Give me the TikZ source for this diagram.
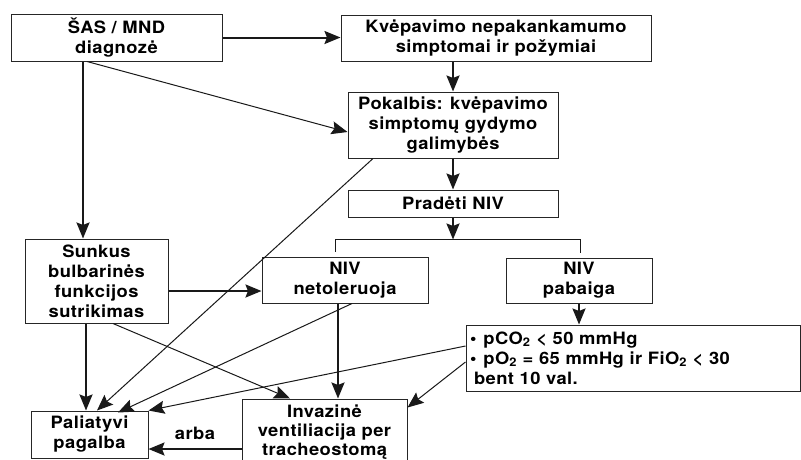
\documentclass[tikz,border=0pt]{standalone}
\usepackage{fontspec}
\setmainfont{TeX Gyre Heros}[FakeStretch=1.08, LetterSpace=2.5]
\usetikzlibrary{arrows.meta,calc}
\begin{document}
\begin{tikzpicture}[x=1pt,y=-1pt,
  font=\fontsize{17}{20}\selectfont\bfseries,
  box/.style={draw=black!85, line width=1pt, align=center, inner sep=0pt, text=black},
  tip/.style={-{Stealth[length=16pt,width=13pt,inset=2.5pt]}},
  thickarr/.style={line width=2pt, draw=black!90, tip},
  thinarr/.style={line width=1pt, draw=black!90, tip},
  thinline/.style={line width=1pt, draw=black!90}]
\useasboundingbox (0,0) rectangle (801,459);
\clip (0,0) rectangle (801,459);
\fill[white] (0,0) rectangle (801,459);

\node[box, minimum width=211pt, minimum height=47pt] (sas) at (116.5,37.5) {ŠAS / MND\\diagnozė};
\node[box, minimum width=310pt, minimum height=46pt] (kve) at (496,38) {Kvėpavimo nepakankamumo\\simptomai ir požymiai};
\node[box, minimum width=210pt, minimum height=66pt] (pok) at (453,125) {Pokalbis: kvėpavimo\\simptomų gydymo\\galimybės};
\node[box, minimum width=210pt, minimum height=27pt] (pra) at (453,203.5) {Pradėti NIV};
\node[box, minimum width=143pt, minimum height=84pt] (sun) at (96.5,281) {Sunkus\\bulbarinės\\funkcijos\\sutrikimas};
\node[box, minimum width=166pt, minimum height=46pt] (net) at (345,280) {NIV\\netoleruoja};
\node[box, minimum width=146pt, minimum height=45pt] (pab) at (579,280.5) {NIV\\pabaiga};
\node[box, minimum width=334pt, minimum height=66pt, text width=326pt, align=left, inner xsep=4pt] (cri) at (633,358)
  {•\hspace{7pt}pCO\textsubscript{2} < 50 mmHg\\•\hspace{7pt}pO\textsubscript{2} = 65 mmHg ir FiO\textsubscript{2} < 30\\\hspace*{4pt}bent 10 val.};
\node[box, minimum width=117pt, minimum height=47pt] (pal) at (89.5,434.5) {Paliatyvi\\pagalba};
\node[box, minimum width=165pt, minimum height=66pt, font=\fontsize{17}{19}\selectfont\bfseries] (inv) at (324.5,432) {Invazinė\\ventiliacija per\\tracheostomą};

% connectors
\draw[thickarr] (sas.east) -- (sas.east -| kve.west);
\draw[thickarr] ([xshift=-33.5pt]sas.south) -- ([xshift=-33.5pt]sas.south |- sun.north);
\draw[thinarr] ([xshift=-29.5pt]sas.south) -- ([yshift=-7pt]pok.west);
\draw[thickarr] (kve.south -| pok.north) -- (pok.north);
\draw[thickarr] (pok.south) -- (pra.north);
\draw[thinarr] ([xshift=-80pt]pok.south) -- ([xshift=7.5pt]pal.north);

\coordinate (br) at ([yshift=-22pt]pra.south);
\draw[thickarr] (pra.south) -- (br);
\draw[thinline] ([xshift=-10pt,yshift=5pt]net.north) |- (br) -| ([xshift=1pt,yshift=5pt]pab.north);

\draw[thickarr] ([yshift=-10pt]sun.east) -- ([yshift=-10pt]sun.east -| net.west);
\draw[thickarr] ([xshift=-10.5pt]sun.south) -- ([xshift=-10.5pt]sun.south |- pal.north);
\draw[thinarr] ([xshift=16.5pt]sun.south) -- ([xshift=-34.5pt]inv.north);
\draw[thinarr] ([xshift=7pt]net.south) -- ([xshift=28.5pt,yshift=-2pt]pal.north);
\draw[thickarr] ([xshift=-7pt]net.south) -- ([xshift=-7pt]net.south |- inv.north);
\draw[thickarr] (pab.south) -- (pab.south |- cri.north);
\draw[thinarr] ([yshift=12pt]cri.west) -- (pal.north east);
\draw[thinarr] ([yshift=-4pt]cri.west) -- ([yshift=-9pt]inv.north east);

\coordinate (pe) at ([yshift=-14.5pt]pal.east);
\draw[thickarr] (inv.west |- pe) -- node[above=5pt] (arba) {arba} (pe);
\end{tikzpicture}
\end{document}
